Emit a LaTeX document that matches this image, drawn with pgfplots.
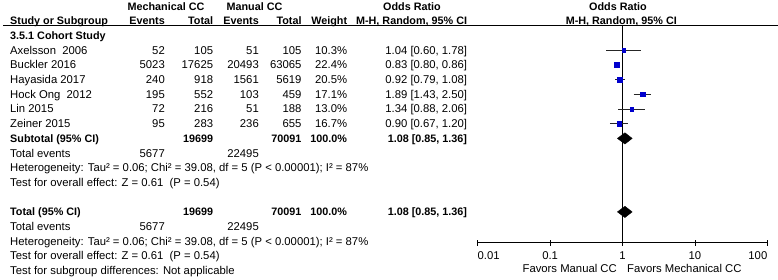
\documentclass[border=0pt]{standalone}
\usepackage{fontspec}
\setmainfont{Liberation Sans}
\usepackage{pgfplots}
\pgfplotsset{compat=1.18}
\definecolor{sqblue}{RGB}{0,0,205}
\newcommand\fs{\fontsize{11.3}{13.5}\selectfont}
\newcommand\fsm{\fontsize{11.3}{13}\selectfont}
\newcommand\fb{\fontsize{10.8}{13}\selectfont\bfseries}
\tikzset{
  L/.style={anchor=base west, yshift=-4pt, inner sep=0pt, font=\fs},
  R/.style={anchor=base east, yshift=-4pt, inner sep=0pt, font=\fs},
  C/.style={anchor=base, yshift=-4pt, inner sep=0pt, font=\fs},
  LB/.style={L, font=\fb},
  RB/.style={R, font=\fb},
  CB/.style={C, font=\fb},
}
\begin{document}
\begin{tikzpicture}
\useasboundingbox (0,0) rectangle (778pt,280pt);
% ---------- text canvas: x in pixels, y = -row ----------
\begin{axis}[at={(0pt,0pt)}, anchor=south west, width=778pt, height=280pt,
  scale only axis, xmin=0, xmax=778, ymin=-16.633, ymax=2.415,
  hide axis, clip=false]
% header
\node[CB] at (axis cs:166,2) {Mechanical CC};
\node[CB] at (axis cs:254.5,2) {Manual CC};
\node[CB] at (axis cs:412,2) {Odds Ratio};
\node[CB] at (axis cs:618,2) {Odds Ratio};
\node[LB] at (axis cs:10,1) {Study or Subgroup};
\node[RB] at (axis cs:165,1) {Events};
\node[RB] at (axis cs:213.3,1) {Total};
\node[RB] at (axis cs:259,1) {Events};
\node[RB] at (axis cs:301.7,1) {Total};
\node[RB] at (axis cs:347.3,1) {Weight};
\node[RB] at (axis cs:467.3,1) {M-H, Random, 95\% CI};
\node[CB] at (axis cs:621.3,1) {M-H, Random, 95\% CI};
\draw[black, line width=0.8pt] (axis cs:3,0.714) -- (axis cs:778,0.714);
% subgroup
\node[LB] at (axis cs:10,0) {3.5.1 Cohort Study};
% studies
\node[L] at (axis cs:10,-1) {Axelsson\ \ 2006};
\node[R] at (axis cs:165,-1) {52};
\node[R] at (axis cs:213.3,-1) {105};
\node[R] at (axis cs:259,-1) {51};
\node[R] at (axis cs:301.7,-1) {105};
\node[R] at (axis cs:347.3,-1) {10.3\%};
\node[R] at (axis cs:467.3,-1) {1.04 [0.60, 1.78]};
\node[L] at (axis cs:10,-2) {Buckler 2016};
\node[R] at (axis cs:165,-2) {5023};
\node[R] at (axis cs:213.3,-2) {17625};
\node[R] at (axis cs:259,-2) {20493};
\node[R] at (axis cs:301.7,-2) {63065};
\node[R] at (axis cs:347.3,-2) {22.4\%};
\node[R] at (axis cs:467.3,-2) {0.83 [0.80, 0.86]};
\node[L] at (axis cs:10,-3) {Hayasida 2017};
\node[R] at (axis cs:165,-3) {240};
\node[R] at (axis cs:213.3,-3) {918};
\node[R] at (axis cs:259,-3) {1561};
\node[R] at (axis cs:301.7,-3) {5619};
\node[R] at (axis cs:347.3,-3) {20.5\%};
\node[R] at (axis cs:467.3,-3) {0.92 [0.79, 1.08]};
\node[L] at (axis cs:10,-4) {Hock Ong\ \ 2012};
\node[R] at (axis cs:165,-4) {195};
\node[R] at (axis cs:213.3,-4) {552};
\node[R] at (axis cs:259,-4) {103};
\node[R] at (axis cs:301.7,-4) {459};
\node[R] at (axis cs:347.3,-4) {17.1\%};
\node[R] at (axis cs:467.3,-4) {1.89 [1.43, 2.50]};
\node[L] at (axis cs:10,-5) {Lin 2015};
\node[R] at (axis cs:165,-5) {72};
\node[R] at (axis cs:213.3,-5) {216};
\node[R] at (axis cs:259,-5) {51};
\node[R] at (axis cs:301.7,-5) {188};
\node[R] at (axis cs:347.3,-5) {13.0\%};
\node[R] at (axis cs:467.3,-5) {1.34 [0.88, 2.06]};
\node[L] at (axis cs:10,-6) {Zeiner 2015};
\node[R] at (axis cs:165,-6) {95};
\node[R] at (axis cs:213.3,-6) {283};
\node[R] at (axis cs:259,-6) {236};
\node[R] at (axis cs:301.7,-6) {655};
\node[R] at (axis cs:347.3,-6) {16.7\%};
\node[R] at (axis cs:467.3,-6) {0.90 [0.67, 1.20]};
% subtotal
\node[LB] at (axis cs:10,-7) {Subtotal (95\% CI)};
\node[RB] at (axis cs:213.3,-7) {19699};
\node[RB] at (axis cs:301.7,-7) {70091};
\node[RB] at (axis cs:347.3,-7) {100.0\%};
\node[RB] at (axis cs:467.3,-7) {1.08 [0.85, 1.36]};
\node[L] at (axis cs:10,-8) {Total events};
\node[R] at (axis cs:165,-8) {5677};
\node[R] at (axis cs:259,-8) {22495};
\node[L] at (axis cs:10,-9) {Heterogeneity: Tau² = 0.06; Chi² = 39.08, df = 5 (P < 0.00001); I² = 87\%};
\node[L] at (axis cs:10,-10) {Test for overall effect: Z = 0.61\ \ (P = 0.54)};
% total
\node[LB] at (axis cs:10,-12) {Total (95\% CI)};
\node[RB] at (axis cs:213.3,-12) {19699};
\node[RB] at (axis cs:301.7,-12) {70091};
\node[RB] at (axis cs:347.3,-12) {100.0\%};
\node[RB] at (axis cs:467.3,-12) {1.08 [0.85, 1.36]};
\node[L] at (axis cs:10,-13) {Total events};
\node[R] at (axis cs:165,-13) {5677};
\node[R] at (axis cs:259,-13) {22495};
\node[L] at (axis cs:10,-14) {Heterogeneity: Tau² = 0.06; Chi² = 39.08, df = 5 (P < 0.00001); I² = 87\%};
\node[L] at (axis cs:10,-15) {Test for overall effect: Z = 0.61\ \ (P = 0.54)};
\node[L] at (axis cs:10,-16) {Test for subgroup differences: Not applicable};
% favors
\node[R, font=\fsm] at (axis cs:617,-15.85) {Favors Manual CC};
\node[L, font=\fsm] at (axis cs:627,-15.85) {Favors Mechanical CC};
\end{axis}
% ---------- forest plot ----------
\begin{axis}[at={(477.7pt,37.3pt)}, anchor=south west, width=289.6pt, height=217.7pt,
  scale only axis, xmode=log, xmin=0.01, xmax=100, ymin=-14.095, ymax=0.714,
  axis x line=bottom, axis y line=none,
  x axis line style={-, black, line width=0.8pt},
  xtick={0.01,0.1,1,10,100},
  xticklabels={\rlap{0.01},0.1,1,10,\llap{100}},
  xticklabel style={font=\fsm, inner sep=0pt, yshift=-5.5pt},
  xminorticks=false, tick align=center, major tick length=6pt,
  major tick style={black, line width=0.8pt},
  clip=false, enlargelimits=false]
\addplot[black, line width=0.8pt] coordinates {(1,0.714) (1,-14.095)};
% confidence intervals
\addplot[black!85, line width=0.75pt] coordinates {(0.60,-1) (1.78,-1)};
\addplot[black!85, line width=0.75pt] coordinates {(0.80,-2) (0.86,-2)};
\addplot[black!85, line width=0.75pt] coordinates {(0.79,-3) (1.08,-3)};
\addplot[black!85, line width=0.75pt] coordinates {(1.43,-4) (2.50,-4)};
\addplot[black!85, line width=0.75pt] coordinates {(0.88,-5) (2.06,-5)};
\addplot[black!85, line width=0.75pt] coordinates {(0.67,-6) (1.20,-6)};
% point estimates, size by weight
\addplot[only marks, mark=square*, mark size=1.7pt, sqblue] coordinates {(1.04,-1)};
\addplot[only marks, mark=square*, mark size=2.5pt, sqblue] coordinates {(0.83,-2)};
\addplot[only marks, mark=square*, mark size=2.4pt, sqblue] coordinates {(0.92,-3)};
\addplot[only marks, mark=square*, mark size=2.2pt, sqblue] coordinates {(1.89,-4)};
\addplot[only marks, mark=square*, mark size=1.9pt, sqblue] coordinates {(1.34,-5)};
\addplot[only marks, mark=square*, mark size=2.15pt, sqblue] coordinates {(0.90,-6)};
% pooled diamonds
\addplot[fill=black, draw=black] coordinates {(0.85,-7) (1.08,-6.616) (1.36,-7) (1.08,-7.384)} -- cycle;
\addplot[fill=black, draw=black] coordinates {(0.85,-12) (1.08,-11.616) (1.36,-12) (1.08,-12.384)} -- cycle;
\end{axis}
\end{tikzpicture}
\end{document}
